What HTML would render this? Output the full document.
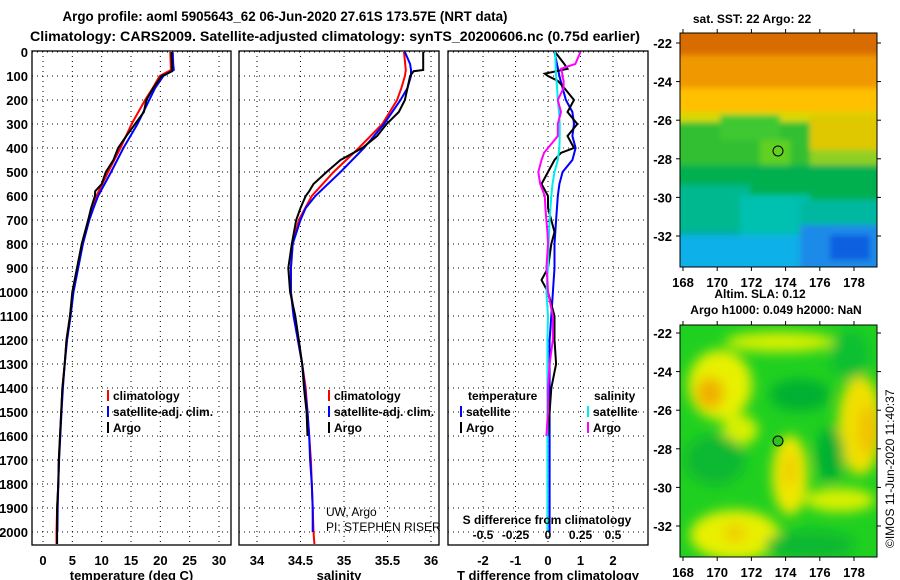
<!DOCTYPE html>
<html><head><meta charset="utf-8"><style>
html,body{margin:0;padding:0;background:#fff;}
svg{display:block;font-family:"Liberation Sans",Arial,sans-serif;font-weight:bold;}
</style></head><body>
<svg id="chart" width="900" height="580" viewBox="0 0 900 580" xmlns="http://www.w3.org/2000/svg">
<defs>
<filter id="blur1" x="-30%" y="-30%" width="160%" height="160%"><feGaussianBlur stdDeviation="6"/></filter>
<filter id="blur2" x="-20%" y="-20%" width="140%" height="140%"><feGaussianBlur stdDeviation="3"/></filter>
<clipPath id="clipTop"><rect x="680" y="33" width="197" height="234"/></clipPath>
<clipPath id="clipBot"><rect x="680" y="325" width="197" height="232"/></clipPath>
</defs>
<text x="285" y="21" text-anchor="middle" font-size="14" textLength="445" lengthAdjust="spacingAndGlyphs">Argo profile: aoml 5905643_62 06-Jun-2020 27.61S 173.57E (NRT data)</text>
<text x="335" y="41" text-anchor="middle" font-size="14" textLength="610" lengthAdjust="spacingAndGlyphs">Climatology: CARS2009. Satellite-adjusted climatology: synTS_20200606.nc (0.75d earlier)</text>
<g id="plots"></g>
<!-- top map SST -->
<g clip-path="url(#clipTop)">
 <rect x="680" y="33" width="197" height="234" fill="#00b0a0"/>
 <g filter="url(#blur2)">
  <rect x="670" y="20" width="220" height="45" fill="#d86c00"/>
  <rect x="670" y="55" width="220" height="40" fill="#f09800"/>
  <rect x="670" y="88" width="220" height="30" fill="#ffc000"/>
  <rect x="670" y="112" width="220" height="14" fill="#d8d800"/>
  <rect x="670" y="122" width="140" height="60" fill="#30c030"/>
  <rect x="720" y="115" width="60" height="25" fill="#40c830"/>
  <rect x="810" y="115" width="80" height="50" fill="#e0c800"/>
  <rect x="810" y="150" width="80" height="30" fill="#90d020"/>
  <rect x="760" y="140" width="30" height="30" fill="#60d020"/>
  <rect x="670" y="165" width="220" height="40" fill="#00b050"/>
  <rect x="670" y="185" width="80" height="45" fill="#00b890"/>
  <rect x="740" y="195" width="70" height="40" fill="#00c0b0"/>
  <rect x="800" y="200" width="90" height="30" fill="#00b8a0"/>
  <rect x="800" y="225" width="90" height="45" fill="#1a8ae8"/>
  <rect x="670" y="235" width="130" height="40" fill="#10b0e8"/>
  <rect x="830" y="235" width="40" height="25" fill="#1060e0"/>
 </g>
</g>
<rect x="680" y="33" width="197" height="234" fill="none" stroke="#000"/>
<circle cx="778" cy="151" r="5" fill="none" stroke="#000"/>
<text x="752" y="23" text-anchor="middle" font-size="12">sat. SST: 22 Argo: 22</text>
<!-- bottom map SLA -->
<g clip-path="url(#clipBot)">
 <rect x="680" y="325" width="197" height="232" fill="#20d020"/>
 <g filter="url(#blur1)">
  <ellipse cx="720" cy="385" rx="32" ry="35" fill="#e8f000"/>
  <ellipse cx="710" cy="393" rx="14" ry="16" fill="#f0b000"/>
  <ellipse cx="780" cy="342" rx="55" ry="10" fill="#d8f000"/>
  <ellipse cx="860" cy="425" rx="22" ry="50" fill="#f0e000"/>
  <ellipse cx="868" cy="430" rx="9" ry="25" fill="#f0c000"/>
  <ellipse cx="790" cy="475" rx="18" ry="40" fill="#f0e800"/>
  <ellipse cx="790" cy="470" rx="8" ry="18" fill="#f0d000"/>
  <ellipse cx="735" cy="535" rx="45" ry="25" fill="#e8f000"/>
  <ellipse cx="735" cy="533" rx="12" ry="10" fill="#f0d000"/>
  <ellipse cx="840" cy="500" rx="35" ry="12" fill="#d8f000"/>
  <ellipse cx="740" cy="430" rx="18" ry="15" fill="#d8f000"/>
  <ellipse cx="800" cy="395" rx="30" ry="16" fill="#00b030"/>
  <ellipse cx="830" cy="455" rx="14" ry="28" fill="#00b030"/>
  <ellipse cx="715" cy="460" rx="30" ry="25" fill="#10b830"/>
  <ellipse cx="810" cy="545" rx="45" ry="14" fill="#10b830"/>
  <ellipse cx="850" cy="355" rx="20" ry="25" fill="#10c030"/>
 </g>
</g>
<rect x="680" y="325" width="197" height="232" fill="none" stroke="#000"/>
<circle cx="778" cy="441" r="5" fill="#30c020" stroke="#000"/>
<text x="760" y="298" text-anchor="middle" font-size="12">Altim. SLA: 0.12</text>
<text x="776" y="314" text-anchor="middle" font-size="12">Argo h1000: 0.049 h2000: NaN</text>
<text transform="translate(894,548) rotate(-90)" font-size="12" font-weight="normal">©IMOS 11-Jun-2020 11:40:37</text>
<g id="maps"></g>
</svg>
<script>
const depthTicks=[0,100,200,300,400,500,600,700,800,900,1000,1100,1200,1300,1400,1500,1600,1700,1800,1900,2000];
const tempTicks=[0,5,10,15,20,25,30];
const salTicks=[34,34.5,35,35.5,36];
const tdiffTicks=[-2,-1,0,1,2];
const sdiffTicks=[-0.5,-0.25,0,0.25,0.5];
const latTicks=[-22,-24,-26,-28,-30,-32];
const lonTicks=[168,170,172,174,176,178];

const argoDepth=[0,75,80,100,150,200,250,300,350,400,450,500,550,580,600,650,700,800,900,1000,1100,1200,1300,1400,1500,1600,1700,1800,1900,2000,2050];
const argoTemp=[21.9,22.0,22.0,20.2,18.8,17.6,17.2,15.7,14.2,12.8,12.0,10.7,10.0,8.9,8.85,8.2,7.7,6.6,5.8,5.0,4.6,4.0,3.7,3.3,3.1,2.9,2.7,2.6,2.4,2.4,2.4];
const argoSal=[35.91,35.91,35.80,35.76,35.73,35.70,35.63,35.49,35.38,35.21,34.96,34.80,34.65,34.6,34.56,34.50,34.45,34.40,34.36,34.38,34.44,34.48,34.52,34.54,34.57,34.58,null,null,null,null,null];
const climDepth=[0,75,100,150,200,300,400,500,600,700,800,900,1000,1100,1200,1300,1400,1500,1600,1700,1800,1900,2000,2050];
const climTemp=[21.7,21.8,19.9,18.7,17.4,15.1,13.2,11.1,9.1,7.7,6.7,5.9,5.1,4.6,4.0,3.7,3.3,3.1,2.9,2.7,2.6,2.4,2.3,2.3];
const climSal=[35.69,35.71,35.70,35.66,35.61,35.44,35.17,34.88,34.63,34.48,34.41,34.39,34.39,34.43,34.47,34.52,34.56,34.58,34.60,34.62,34.63,34.64,34.65,34.66];
const satDepth=[0,50,75,100,150,200,300,400,500,600,650,700,800,900,1000,1100,1200,1300,1400,1500,1600,1700,1800,1900,2000];
const satTemp=[22.1,22.2,22.3,20.5,19.1,18.1,16.1,13.7,11.6,9.4,8.6,7.9,6.8,6.0,5.2,4.7,4.1,3.7,3.4,3.15,2.95,2.75,2.6,2.5,2.45];
const satSal=[35.70,35.76,35.77,35.77,35.73,35.65,35.46,35.23,34.96,34.67,34.56,34.50,34.41,34.39,34.39,34.42,34.47,34.52,34.55,34.58,34.60,34.61,34.63,34.64,34.64];
const diffDepth=[0,50,70,90,100,120,150,200,250,300,350,400,420,450,500,550,600,650,700,750,800,900,950,1000,1100,1200,1300,1400,1500,1600];
const argoTDiff=[0.22,0.5,0.6,-0.1,0.0,0.3,0.5,0.8,0.6,0.9,0.6,0.8,0.4,0.2,0.0,-0.2,0.0,0.0,0.1,0.2,0.1,0.0,-0.2,0.0,0.2,0.2,0.25,0.1,0.05,0.0];
const argoSDiff=[0.25,0.21,0.10,0.11,0.11,0.12,0.12,0.075,0.1,0.075,0.075,0.0,-0.03,-0.05,-0.075,-0.06,-0.025,-0.02,-0.012,-0.005,0.0,-0.012,-0.005,0.0,0.037,0.037,0.012,0.0,0.0,-0.012];
const satDiffDepth=[0,100,150,200,250,300,350,400,450,500,550,600,700,800,900,1000,1100,1200,1400,1600,1800,2000];
const satTDiff=[0.2,0.35,0.45,0.55,0.75,0.8,0.75,0.85,0.75,0.45,0.35,0.3,0.25,0.2,0.2,0.15,0.1,0.05,0.05,0.05,0.05,0.05];
const satSDiff=[0.055,0.062,0.07,0.075,0.085,0.09,0.09,0.088,0.075,0.05,0.035,0.025,0.012,0.005,0.0,-0.012,0.0,-0.005,-0.005,-0.005,-0.005,-0.005];

const NS='http://www.w3.org/2000/svg';
const root=document.getElementById('plots');
function mk(tag,attrs,parent){const e=document.createElementNS(NS,tag);for(const k in attrs)e.setAttribute(k,attrs[k]);(parent||root).appendChild(e);return e;}
const yTop=51,yBot=545;
function yScale(d){return 52+d*0.24;}
function lin(d0,d1,r0,r1){return v=>r0+(v-d0)*(r1-r0)/(d1-d0);}
const xT=lin(0,30,43,219), xS=lin(34,36,257,431), xD=lin(0,2,548,613), xSd=lin(0,0.5,548,613);

function panel(name,x0,x1,xs,ticks,fmtTick,xlabel,showY){
  const g=mk('g',{});
  
  
  depthTicks.forEach(d=>{const l=mk('line',{x1:x0,x2:x1,y1:yScale(d),y2:yScale(d),stroke:'#000','stroke-dasharray':'1,4','stroke-width':1},g);
    });
  ticks.forEach(t=>{const l=mk('line',{x1:xs(t),x2:xs(t),y1:yTop,y2:yBot,stroke:'#000','stroke-dasharray':'1,4','stroke-width':1},g);
    
    if(fmtTick){const tx=mk('text',{x:xs(t),y:565,'text-anchor':'middle','font-size':13},g);tx.textContent=fmtTick(t);
    }});
  if(showY){depthTicks.forEach(d=>{const tx=mk('text',{x:28,y:yScale(d)+5,'text-anchor':'end','font-size':13},g);tx.textContent=d;
    });}
  const xl=mk('text',{x:(x0+x1)/2,y:580,'text-anchor':'middle','font-size':13},g);xl.textContent=xlabel;
  
  return g;
}
function frame(g,x0,x1){const r=mk('rect',{x:x0,y:yTop,width:x1-x0,height:yBot-yTop,fill:'none',stroke:'#000','stroke-width':1.3},g);
  }
function series(g,depths,vals,xs,color,name){
  let d='';let pen=false;
  depths.forEach((dep,i)=>{const v=vals[i];if(v===null||v===undefined){pen=false;return;}
    d+=(pen?'L':'M')+xs(v).toFixed(1)+','+yScale(dep).toFixed(1);pen=true;});
  const p=mk('path',{d:d,fill:'none',stroke:color,'stroke-width':2},g);
  
}
function legend(g,x,y,items){items.forEach((it,i)=>{
  const l=mk('line',{x1:x,x2:x,y1:y+i*16-10,y2:y+i*16+1,stroke:it[1],'stroke-width':2},g);
  
  if(it[0]){const t=mk('text',{x:x+5,y:y+i*16,'font-size':12},g);t.textContent=it[0];
  }});}

const g1=panel('temperature-panel',32,231,xT,tempTicks,t=>t,'temperature (deg C)',true);
series(g1,climDepth,climTemp,xT,'#f00','climatology-temp-line');
series(g1,satDepth,satTemp,xT,'#00f','satellite-temp-line');
series(g1,argoDepth,argoTemp,xT,'#000','argo-temp-line');
legend(g1,108,400,[['climatology','#f00'],['satellite-adj. clim.','#00f'],['Argo','#000']]);
frame(g1,32,231);

const g2=panel('salinity-panel',239,439,xS,salTicks,t=>t,'salinity',false);
series(g2,climDepth,climSal,xS,'#f00','climatology-salinity-line');
series(g2,satDepth,satSal,xS,'#00f','satellite-salinity-line');
series(g2,argoDepth,argoSal,xS,'#000','argo-salinity-line');
legend(g2,329,400,[['climatology','#f00'],['satellite-adj. clim.','#00f'],['Argo','#000']]);
const n1=mk('text',{x:326,y:516,'font-size':12,'font-weight':'normal'},g2);n1.textContent='UW, Argo';

const n2=mk('text',{x:326,y:531,'font-size':12,'font-weight':'normal'},g2);n2.textContent='PI: STEPHEN RISER';

frame(g2,239,439);

const g3=panel('difference-panel',448,648,xD,tdiffTicks,t=>t,'T difference from climatology',false);
series(g3,satDiffDepth,satTDiff,xD,'#00f','satellite-temp-diff-line');
series(g3,diffDepth,argoTDiff,xD,'#000','argo-temp-diff-line');
series(g3,satDiffDepth,satSDiff,xSd,'#0ee','satellite-sal-diff-line');
series(g3,diffDepth,argoSDiff,xSd,'#f0f','argo-sal-diff-line');
const lt=mk('text',{x:468,y:400,'font-size':12},g3);lt.textContent='temperature';

const ls=mk('text',{x:594,y:400,'font-size':12},g3);ls.textContent='salinity';

legend(g3,461,416,[['satellite','#00f'],['Argo','#000']]);
legend(g3,588,416,[['satellite','#0ee'],['Argo','#f0f']]);
const sd=mk('text',{x:547,y:524,'text-anchor':'middle','font-size':12},g3);sd.textContent='S difference from climatology';

sdiffTicks.forEach(t=>{const tx=mk('text',{x:xSd(t),y:539,'text-anchor':'middle','font-size':12},g3);tx.textContent=t;
  });
frame(g3,448,648);

const mg=document.getElementById('maps');
function mapAxes(y0,y1,latY,name){
  const g=mk('g',{},mg);
  const lonX=lin(168,178,683,854);
  lonTicks.forEach(l=>{const x=lonX(l);
    mk('line',{x1:x,x2:x,y1:y0-4,y2:y0,stroke:'#000'},g);mk('line',{x1:x,x2:x,y1:y1,y2:y1+4,stroke:'#000'},g);
    const t=mk('text',{x:x,y:y1+20,'text-anchor':'middle','font-size':13},g);t.textContent=l;
    });
  latTicks.forEach(l=>{const y=latY(l);
    mk('line',{x1:676,x2:680,y1:y,y2:y,stroke:'#000'},g);mk('line',{x1:877,x2:881,y1:y,y2:y,stroke:'#000'},g);
    const t=mk('text',{x:672,y:y+5,'text-anchor':'end','font-size':13},g);t.textContent=l;
    });
}
mapAxes(33,267,lin(-22,-32,43,236),'sst-map-axes');
mapAxes(325,557,lin(-22,-32,333,526),'sla-map-axes');
</script>
</body></html>
